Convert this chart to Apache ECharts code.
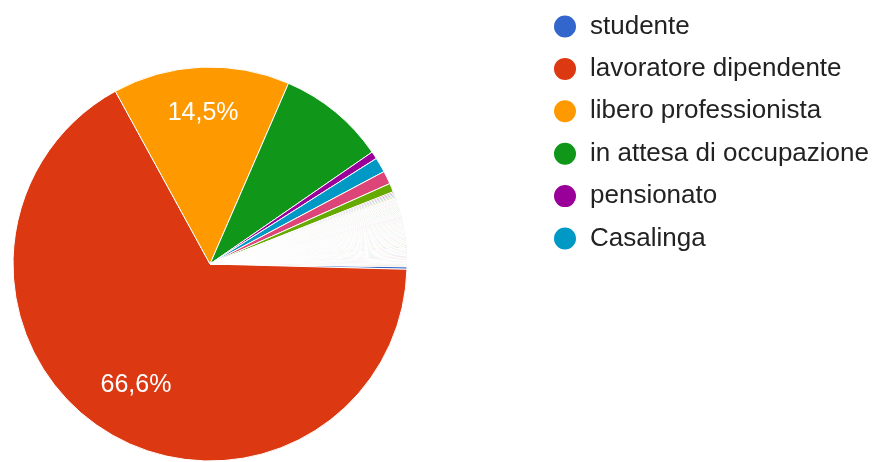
<!DOCTYPE html>
<html>
<head>
<meta charset="utf-8">
<script src="https://cdn.jsdelivr.net/npm/echarts@6/dist/echarts.min.js"></script>
<style>
html,body{margin:0;padding:0;background:#fff;}
#chart{width:883px;height:462px;}
</style>
</head>
<body>
<div id="chart"></div>
<script>
// Named categories shown in the legend
const categories = ['studente', 'lavoratore dipendente', 'libero professionista', 'in attesa di occupazione', 'pensionato', 'Casalinga'];
// Response counts for the named categories
const values = [4, 1300, 283, 173, 12, 24];
// Remaining free-text ("altro") answers, not listed in the visible legend page
const otherValues = [21, 14, 2, 2, 2, 2, 2,
  1,1,1,1,1,1,1,1,1,1,
  1,1,1,1,1,1,1,1,1,1,
  1,1,1,1,1,1,1,1,1,1,
  1,1,1,1,1,1,1,1,1,1,
  1,1,1,1,1,1,1,1,1,1,
  1,1,1,1,1,1,1,1,1,1,
  1,1,1,1,1,1,1,1,1,1,
  1,1,1,1,1,1,1,1,1,1,
  1,1,1,1,1,1,1,1,1,1,
  1,1,1,1,1,1,1,1,1,1,
  1,1,1,1,1,1,1,1,1,1,
  1];
const otherNames = otherValues.map((v, i) => 'altro ' + (i + 1));
// Slices that carry a percentage label
const labelled = ['lavoratore dipendente', 'libero professionista'];

const palette = ['#3366cc','#dc3912','#ff9900','#109618','#990099','#0099c6','#dd4477','#66aa00','#b82e2e','#316395','#994499','#22aa99','#aaaa11','#6633cc','#e67300','#8b0707','#651067','#329262','#5574a6','#3b3eac','#b77322','#16d620','#b91383','#f4359e','#9c5935','#a9c413','#2a778d','#668d1c','#bea413','#0c5922','#743411'];

const allNames = categories.concat(otherNames);
const allValues = values.concat(otherValues);
const total = allValues.reduce((a, b) => a + b, 0);

const CX = 210, CY = 264;
const labelRadiusRatio = { 'lavoratore dipendente': 0.70, 'libero professionista': 0.745 };

const data = allNames.map((n, i) => ({
  name: n,
  value: allValues[i],
  label: { show: labelled.indexOf(n) >= 0 }
}));

const chart = echarts.init(document.getElementById('chart'), null, { renderer: 'canvas' });
chart.setOption({
  animation: false,
  color: palette,
  legend: {
    orient: 'vertical',
    left: 552,
    top: 13.5,
    padding: 0,
    itemWidth: 24,
    itemHeight: 24,
    itemGap: 16.4,
    icon: 'circle',
    selectedMode: false,
    data: categories,
    textStyle: {
      fontFamily: 'Arial, "Liberation Sans", sans-serif',
      fontSize: 26,
      color: '#222222',
      padding: [0, 0, 0, 8]
    }
  },
  series: [{
    type: 'pie',
    center: [CX, CY],
    radius: [0, 197],
    startAngle: -0.8,
    clockwise: true,
    avoidLabelOverlap: false,
    silent: true,
    itemStyle: { borderColor: '#ffffff', borderWidth: 1 },
    label: {
      show: false,
      position: 'inside',
      color: '#ffffff',
      fontFamily: 'Arial, "Liberation Sans", sans-serif',
      fontSize: 25,
      formatter: p => (p.value / total * 100).toFixed(1).replace('.', ',') + '%'
    },
    labelLine: { show: false },
    labelLayout: function (p) {
      const name = allNames[p.dataIndex];
      const k = labelRadiusRatio[name];
      if (!k) return {};
      const r = p.labelRect;
      const lx = r.x + r.width / 2, ly = r.y + r.height / 2;
      const f = k / 0.5 - 1;
      return { dx: (lx - CX) * f, dy: (ly - CY) * f };
    },
    emphasis: { disabled: true },
    data: data
  }]
});
</script>
</body>
</html>
